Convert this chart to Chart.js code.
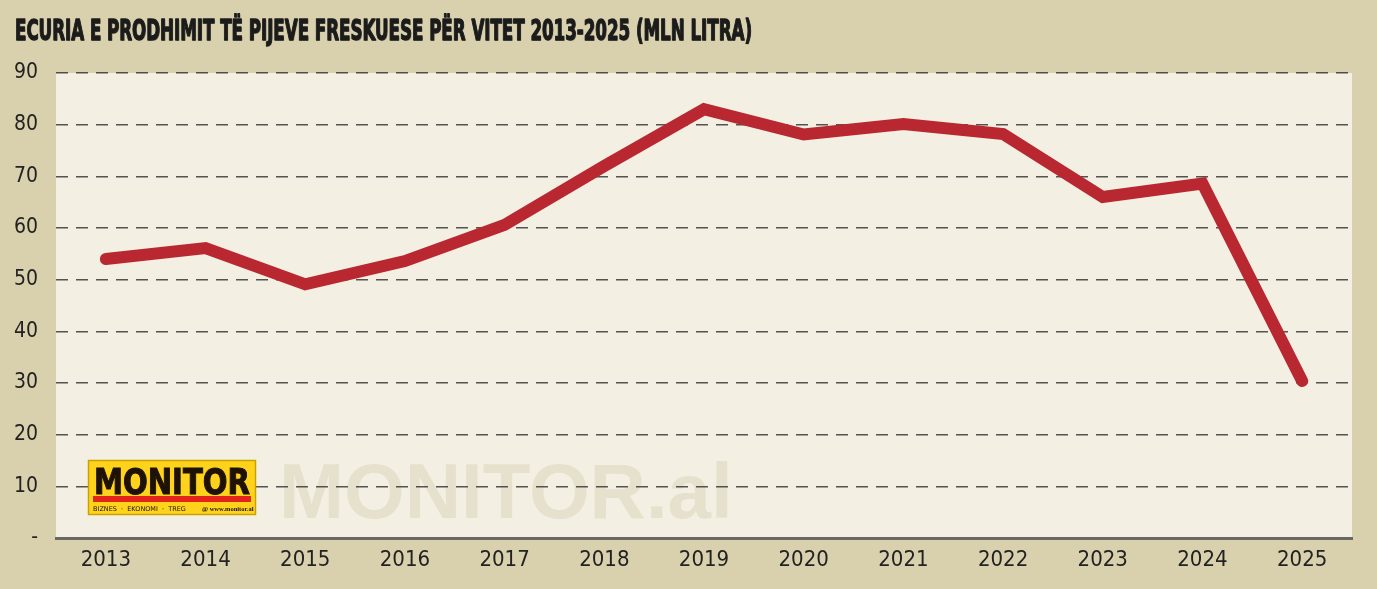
<!DOCTYPE html>
<html>
<head>
<meta charset="utf-8">
<script src="https://cdn.jsdelivr.net/npm/chart.js@4.4.1/dist/chart.umd.min.js"></script>
<style>
  html, body { margin: 0; padding: 0; background: #d9d1ad; }
  #wrap { width: 1377px; height: 589px; position: relative; }
</style>
</head>
<body>
<div id="wrap"><canvas id="chart1"></canvas></div>
<script>
// Data
// ========================================================================
var years = ["2013", "2014", "2015", "2016", "2017", "2018", "2019", "2020", "2021", "2022", "2023", "2024", "2025"];
var production = [54, 56.1, 49.1, 53.6, 60.6, 72, 83, 78.1, 80.1, 78.2, 66, 68.6, 30.4];
var titleText = "ECURIA E PRODHIMIT TË PIJEVE FRESKUESE PËR VITET 2013-2025 (MLN LITRA)";

var narrow = "'Liberation Sans Narrow', 'DejaVu Sans Condensed', 'Liberation Sans', sans-serif";

// Background, title, watermark and logo
// ========================================================================
var decor = {
  id: 'decor',
  beforeDraw: function (chart) {
    var ctx = chart.ctx, a = chart.chartArea;
    ctx.save();
    ctx.fillStyle = '#d9d1ad';
    ctx.fillRect(0, 0, chart.width, chart.height);
    ctx.fillStyle = '#f3f0e3';
    ctx.fillRect(a.left, a.top, a.right - a.left, a.bottom - a.top);

    // watermark
    ctx.fillStyle = '#e6e1cd';
    ctx.font = "bold 78px 'Liberation Sans', Arial, sans-serif";
    ctx.textBaseline = 'alphabetic';
    ctx.fillText('MONITOR.al', 279, 518);

    // title
    ctx.font = "bold 27px " + narrow;
    var w = ctx.measureText(titleText).width;
    ctx.translate(15, 40);
    ctx.scale(737 / w, 1.05);
    ctx.fillStyle = 'rgba(0,0,0,0.25)';
    ctx.fillText(titleText, 1, 1);
    ctx.fillStyle = '#1b1b1b';
    ctx.strokeStyle = '#1b1b1b';
    ctx.lineWidth = 1.2;
    ctx.lineJoin = 'round';
    ctx.strokeText(titleText, 0, 0);
    ctx.fillText(titleText, 0, 0);
    ctx.restore();
  },
  afterDatasetsDraw: function (chart) {
    var ctx = chart.ctx;
    ctx.save();
    // logo box
    ctx.fillStyle = '#ffd31c';
    ctx.fillRect(88, 460, 168, 55);
    ctx.strokeStyle = '#c9a200';
    ctx.lineWidth = 1.5;
    ctx.strokeRect(88.5, 460.5, 167, 54);
    ctx.font = "bold 36px " + narrow;
    var mw = ctx.measureText('MONITOR').width;
    ctx.save();
    ctx.translate(94, 494);
    ctx.scale(156 / mw, 1);
    ctx.fillStyle = '#1e1206';
    ctx.strokeStyle = '#1e1206';
    ctx.lineWidth = 1;
    ctx.strokeText('MONITOR', 0, 0);
    ctx.fillText('MONITOR', 0, 0);
    ctx.restore();
    ctx.fillStyle = '#e4231b';
    ctx.fillRect(93, 496, 158, 6);
    ctx.fillStyle = '#1e1206';
    ctx.font = "6.5px 'DejaVu Sans', sans-serif";
    ctx.fillText('BIZNES  ·  EKONOMI  ·  TREG', 93, 511);
    ctx.font = "bold 6.5px 'Liberation Serif', serif";
    ctx.fillText('@ www.monitor.al', 202, 511);
    ctx.restore();
  }
};

// Chart
// ========================================================================
var chartEl = document.getElementById('chart1');
new Chart(chartEl, {
  type: 'line',
  data: {
    labels: years,
    datasets: [{
      label: "Prodhimi (mln litra)",
      data: production,
      borderColor: "#b92830",
      borderWidth: 12,
      borderCapStyle: 'round',
      borderJoinStyle: 'miter',
      pointRadius: 0,
      tension: 0,
      fill: false
    }]
  },
  options: {
    responsive: true,
    maintainAspectRatio: false,
    animation: false,
    layout: {
      padding: { top: 73, right: 25, left: 0, bottom: 0 }
    },
    plugins: {
      legend: { display: false },
      tooltip: { enabled: false },
      title: { display: false }
    },
    scales: {
      x: {
        offset: true,
        grid: { display: false, drawTicks: false },
        border: { display: true, color: '#6a6862', width: 3 },
        ticks: {
          color: '#222',
          padding: 9,
          font: { family: narrow, size: 22 }
        },
        afterFit: function (scale) { scale.height = 51; }
      },
      y: {
        min: 0,
        max: 90,
        grid: {
          drawTicks: false,
          lineWidth: 1.4,
          color: function (c) { return c.tick && c.tick.value === 0 ? 'rgba(0,0,0,0)' : 'rgba(55,55,55,0.85)'; }
        },
        border: { display: false, dash: [12, 8] },
        ticks: {
          stepSize: 10,
          padding: 18,
          color: '#222',
          font: { family: narrow, size: 21 },
          callback: function (v) { return v === 0 ? '-' : v; }
        },
        afterFit: function (scale) { scale.width = 56; }
      }
    }
  },
  plugins: [decor]
});
</script>
</body>
</html>
